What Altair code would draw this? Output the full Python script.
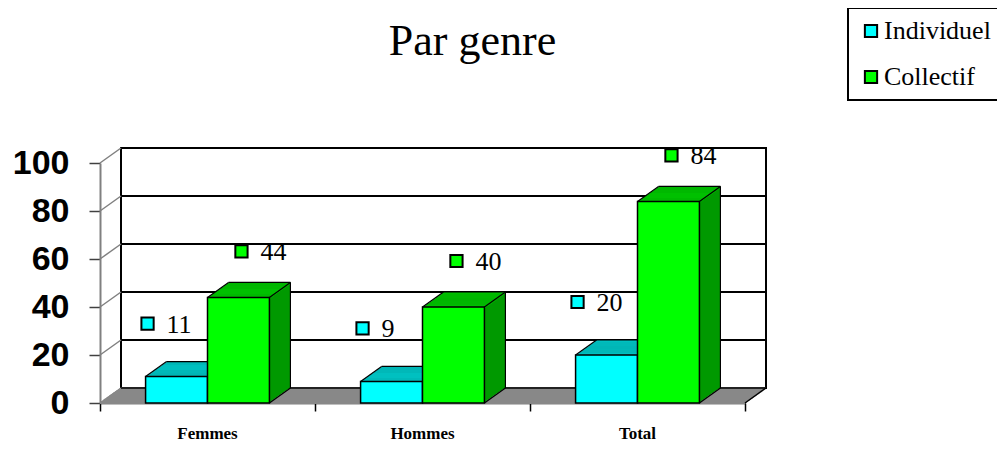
import altair as alt
import pandas as pd

# ---------------- data ----------------
title_text = "Par genre"
categories = ["Femmes", "Hommes", "Total"]
series_names = ["Individuel", "Collectif"]
individuel = [11, 9, 20]
collectif = [44, 40, 84]
y_ticks = [0, 20, 40, 60, 80, 100]
grid_values = [0, 20, 40, 60, 80]

front_colors = ["#00FFFF", "#00FF00"]
top_colors = ["#00C0C0", "#00C000"]
side_colors = ["#009999", "#009900"]

rows = []
for i, c in enumerate(categories):
    for s, vals in enumerate([individuel, collectif]):
        rows.append({"cat": c, "idx": i, "s": s, "series": series_names[s], "value": vals[i]})
bars_df = pd.DataFrame(rows)
cats_df = pd.DataFrame({"cat": categories, "idx": list(range(len(categories)))})
one_df = pd.DataFrame({"k": [0]})
title_df = pd.DataFrame({"t": [title_text]})
grid_df = pd.DataFrame({"v": grid_values})
ytick_df = pd.DataFrame({"v": y_ticks})

# ---------------- geometry / style ----------------
BW = 0.288            # bar width in category units
DX, DY = 21.0, -15.0  # 3D depth in pixels
N = 14                # slices of extrusion

xs = alt.Scale(domain=[0, 3], nice=False, zero=False)
ys = alt.Scale(domain=[0, 100], nice=False, zero=True)
xax = alt.Axis(values=[0, 1, 2, 3], labels=False, ticks=True, tickSize=8, grid=False,
               title=None, domainColor="#000000", domainWidth=1.5,
               tickColor="#000000", tickWidth=1.5)
yax = alt.Axis(values=y_ticks, grid=False, title=None, labelFont="Liberation Sans",
               labelFontWeight="bold", labelFontSize=34, labelColor="#000000",
               labelPadding=20, tickSize=11, tickColor="#404040", tickWidth=1.5,
               domainColor="#808080", domainWidth=2)


def X(f):
    return alt.X(f, type="quantitative", scale=xs, axis=xax)


def Y(f):
    return alt.Y(f, type="quantitative", scale=ys, axis=yax)


layers = []

# back wall
wall = alt.Chart(one_df).transform_calculate(a="0", b="3", lo="0", hi="100")
layers.append(wall.mark_rect(fill="white", stroke="black", strokeWidth=2,
                             xOffset=DX, x2Offset=DX, yOffset=DY, y2Offset=DY)
              .encode(x=X("a"), x2="b", y=Y("hi"), y2="lo"))

# gridlines on back wall
grid = alt.Chart(grid_df).transform_calculate(a="0", b="3")
layers.append(grid.mark_rule(color="black", strokeWidth=2,
                             xOffset=DX, x2Offset=DX, yOffset=DY, y2Offset=DY)
              .encode(x=X("a"), x2="b", y=Y("v"), y2="v"))

# side wall diagonals
yd = alt.Chart(ytick_df).transform_calculate(a="0")
layers.append(yd.mark_rule(color="#808080", strokeWidth=1.5, x2Offset=DX, y2Offset=DY)
              .encode(x=X("a"), x2="a", y=Y("v"), y2="v"))

# floor (extruded strip)
floor = alt.Chart(one_df).transform_calculate(a="0", b="3", z="0")
for k in range(N, -1, -1):
    ox = DX * k / N
    oy = DY * k / N
    layers.append(floor.mark_rect(color="#888888", xOffset=ox, x2Offset=ox,
                                  yOffset=oy - 1, y2Offset=oy + 1)
                  .encode(x=X("a"), x2="b", y=Y("z"), y2="z"))
layers.append(floor.mark_rule(color="black", strokeWidth=1.5, x2Offset=DX, y2Offset=DY)
              .encode(x=X("b"), x2="b", y=Y("z"), y2="z"))
layers.append(floor.mark_rule(color="black", strokeWidth=1.5, xOffset=DX, x2Offset=DX,
                              yOffset=DY, y2Offset=DY)
              .encode(x=X("a"), x2="b", y=Y("z"), y2="z"))

# bars
bars = alt.Chart(bars_df).transform_calculate(
    x0=f"datum.idx + 0.5 - {BW} + datum.s * {BW}",
    x1=f"datum.idx + 0.5 + datum.s * {BW}",
    cx=f"datum.idx + 0.5 - {BW / 2} + datum.s * {BW}",
    zero="0",
    topc=f"datum.s == 0 ? '{top_colors[0]}' : '{top_colors[1]}'",
    sidec=f"datum.s == 0 ? '{side_colors[0]}' : '{side_colors[1]}'",
)

for k in range(N, 0, -1):
    ox = DX * k / N
    oy = DY * k / N
    layers.append(bars.mark_rect(xOffset=ox, x2Offset=ox, yOffset=oy, y2Offset=oy)
                  .encode(x=X("x0"), x2="x1", y=Y("value"), y2="zero",
                          color=alt.Color("sidec:N", scale=None)))
    layers.append(bars.mark_rect(xOffset=ox, x2Offset=ox, yOffset=oy, y2Offset=oy + 2)
                  .encode(x=X("x0"), x2="x1", y=Y("value"), y2="value",
                          color=alt.Color("topc:N", scale=None)))

edge = dict(color="black", strokeWidth=1.2)
# back top edge
layers.append(bars.mark_rule(xOffset=DX, x2Offset=DX, yOffset=DY, y2Offset=DY, **edge)
              .encode(x=X("x0"), x2="x1", y=Y("value"), y2="value"))
# back right edge
layers.append(bars.mark_rule(xOffset=DX, x2Offset=DX, yOffset=DY, y2Offset=DY, **edge)
              .encode(x=X("x1"), x2="x1", y=Y("value"), y2="zero"))
# diagonals
layers.append(bars.mark_rule(x2Offset=DX, y2Offset=DY, **edge)
              .encode(x=X("x0"), x2="x0", y=Y("value"), y2="value"))
layers.append(bars.mark_rule(x2Offset=DX, y2Offset=DY, **edge)
              .encode(x=X("x1"), x2="x1", y=Y("value"), y2="value"))
layers.append(bars.mark_rule(x2Offset=DX, y2Offset=DY, **edge)
              .encode(x=X("x1"), x2="x1", y=Y("zero"), y2="zero"))

# front faces
legend = alt.Legend(
    title=None, orient="none", legendX=748, legendY=-155, padding=10,
    strokeColor="black", fillColor="white",
    labelFont="Liberation Serif", labelFontSize=26, labelColor="#000000", labelLimit=400,
    symbolType="square", symbolSize=150, symbolStrokeColor="black", symbolStrokeWidth=2,
    symbolOpacity=1, rowPadding=20, labelOffset=0, symbolOffset=0,
)
layers.append(bars.mark_rect(stroke="black", strokeWidth=1.5, opacity=1)
              .encode(x=X("x0"), x2="x1", y=Y("value"), y2="zero",
                      color=alt.Color("series:N",
                                      scale=alt.Scale(domain=series_names, range=front_colors),
                                      legend=legend)))

# value labels with square markers
label_pos = {0: (-29, -10, -53), 1: (3, 22, -46)}
for s in (0, 1):
    mdx, tdx, mdy = label_pos[s]
    sub = bars.transform_filter(f"datum.s == {s}")
    layers.append(sub.mark_square(size=150, filled=True, fill=front_colors[s], stroke="black",
                                  strokeWidth=2, opacity=1, xOffset=mdx, yOffset=mdy)
                  .encode(x=X("cx"), y=Y("value")))
    layers.append(sub.mark_text(align="left", baseline="middle", dx=tdx, dy=mdy + 1,
                                font="Liberation Serif", fontSize=26, color="#000000")
                  .encode(x=X("cx"), y=Y("value"), text="value:Q"))

# category labels
cl = alt.Chart(cats_df).transform_calculate(cx="datum.idx + 0.5", z="0")
layers.append(cl.mark_text(align="center", baseline="middle", dy=31,
                           font="Liberation Serif", fontSize=17, fontWeight="bold",
                           color="#000000")
              .encode(x=X("cx"), y=Y("z"), text="cat:N"))

# chart title (as text so that the legend does not push it)
tt = alt.Chart(title_df).transform_calculate(cx="1.5", top="100")
layers.append(tt.mark_text(align="center", baseline="alphabetic", dx=50, dy=-108,
                           font="Liberation Serif", fontSize=44, color="#000000")
              .encode(x=X("cx"), y=Y("top"), text="t:N"))

chart = alt.layer(*layers).resolve_scale(color="independent").properties(
    width=645,
    height=240,
    background="white",
    autosize=alt.AutoSizeParams(type="none"),
    padding={"left": 92, "top": 155, "right": 252, "bottom": 39},
).configure_view(stroke=None).configure_legend(strokeWidth=2)

chart.save("out.html", embed_options={"renderer": "svg", "actions": False})
